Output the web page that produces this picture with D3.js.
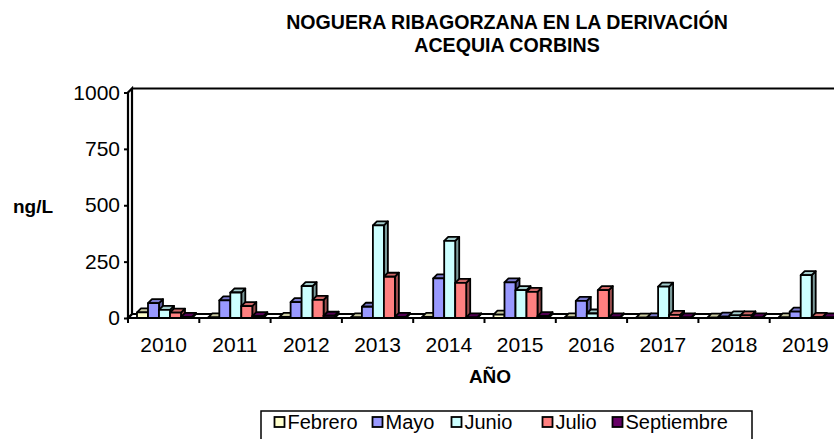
<!DOCTYPE html>
<html><head><meta charset="utf-8">
<script src="https://cdn.jsdelivr.net/npm/d3@7"></script>
<style>
html,body{margin:0;padding:0;background:#fff;}
svg{display:block;font-family:"Liberation Sans",Arial,sans-serif;}
</style></head>
<body>
<svg id="chart" width="834" height="439"></svg>
<script>
const years = ["2010","2011","2012","2013","2014","2015","2016","2017","2018","2019"];
const seriesNames = ["Febrero","Mayo","Junio","Julio","Septiembre"];
const febrero    = [25, 3, 5, 3, 5, 15, 3, 2, 2, 3];
const mayo       = [66, 78, 70, 50, 176, 158, 76, 3, 6, 28];
const junio      = [36, 113, 141, 411, 342, 124, 20, 139, 12, 190];
const julio      = [24, 53, 80, 183, 156, 116, 124, 14, 12, 5];
const septiembre = [5, 8, 10, 5, 3, 8, 3, 3, 3, 3];
const yTicks = [0, 250, 500, 750, 1000];
const colors = ["#FFFFCC","#9999FF","#CCFFFF","#FF8080","#660066"];
const title1 = "NOGUERA RIBAGORZANA EN LA DERIVACIÓN";
const title2 = "ACEQUIA CORBINS";
const yTitle = "ng/L";
const xTitle = "AÑO";

const seriesData = [febrero, mayo, junio, julio, septiembre];

const svg = d3.select("#chart");
svg.append("rect").attr("width",834).attr("height",439).attr("fill","#fff");

const left = 128, catW = 71.3, yBottom = 318, yTop = 92.5;
const dx = 4, dy = 4;
const x0 = d3.scaleBand().domain(years).range([left, left + catW*years.length]).paddingInner(0).paddingOuter(0);
const x1 = d3.scaleBand().domain(seriesNames).range([9, 64]);
const y = d3.scaleLinear().domain([0,1000]).range([yBottom, yTop]);
const right = left + catW*years.length;

// floor
svg.append("polygon")
  .attr("points", [[left,yBottom],[right,yBottom],[right+dx,yBottom-dy],[left+dx,yBottom-dy]].map(p=>p.join(",")).join(" "))
  .attr("fill","#fff").attr("stroke","#000").attr("stroke-width",2.2);
// left wall
svg.append("polygon")
  .attr("points", [[left,yBottom],[left,y(1000)],[left+dx,y(1000)-dy],[left+dx,yBottom-dy]].map(p=>p.join(",")).join(" "))
  .attr("fill","#fff").attr("stroke","#000").attr("stroke-width",2.2);
// back wall top
svg.append("line").attr("x1",left+dx).attr("x2",right+dx).attr("y1",y(1000)-dy).attr("y2",y(1000)-dy)
  .attr("stroke","#000").attr("stroke-width",2);

// y axis
const yAxis = d3.axisLeft(y).tickValues(yTicks).tickSize(4).tickPadding(4).tickFormat(d3.format("d"));
const ya = svg.append("g").attr("transform",`translate(${left},0)`).call(yAxis);
ya.select(".domain").remove();
ya.selectAll(".tick line").attr("stroke","#000").attr("stroke-width",2);
ya.selectAll(".tick text").attr("font-size",21).attr("fill","#000").attr("font-family","Liberation Sans, Arial, sans-serif");

// x ticks at category boundaries
const bounds = years.map(yv => x0(yv)).concat([right]);
svg.append("g").selectAll("line").data(bounds).join("line")
  .attr("x1",d=>d).attr("x2",d=>d).attr("y1",yBottom).attr("y2",yBottom+5)
  .attr("stroke","#000").attr("stroke-width",2);
// x labels
svg.append("g").selectAll("text").data(years).join("text")
  .attr("x", d => x0(d) + x0.bandwidth()/2).attr("y", 351.5)
  .attr("text-anchor","middle").attr("font-size",21).text(d=>d);

// bars
const bars = svg.append("g");
years.forEach((yr, i) => {
  seriesNames.forEach((s, k) => {
    const v = seriesData[k][i];
    const c = d3.color(colors[k]);
    const topC = d3.rgb(c.r*0.8, c.g*0.8, c.b*0.8);
    const sideC = d3.rgb(c.r*0.6, c.g*0.6, c.b*0.6);
    const xl = x0(yr) + x1(s), w = x1.bandwidth(), yt = y(v);
    const g = bars.append("g").attr("stroke","#000").attr("stroke-width",1.8).attr("stroke-linejoin","round");
    g.append("polygon").attr("points",[[xl+w,yBottom],[xl+w,yt],[xl+w+dx,yt-dy],[xl+w+dx,yBottom-dy]].map(p=>p.join(",")).join(" "))
      .attr("fill", sideC.formatHex());
    g.append("polygon").attr("points",[[xl,yt],[xl+w,yt],[xl+w+dx,yt-dy],[xl+dx,yt-dy]].map(p=>p.join(",")).join(" "))
      .attr("fill", topC.formatHex());
    g.append("rect").attr("x",xl).attr("y",yt).attr("width",w).attr("height",Math.max(0,yBottom-yt))
      .attr("fill", colors[k]);
  });
});

// titles
svg.append("text").attr("x",507).attr("y",28.5).attr("text-anchor","middle").attr("font-size",19.6).attr("font-weight","bold").text(title1);
svg.append("text").attr("x",507).attr("y",52).attr("text-anchor","middle").attr("font-size",19.6).attr("font-weight","bold").text(title2);
svg.append("text").attr("x",13).attr("y",213).attr("font-size",19).attr("font-weight","bold").text(yTitle);
svg.append("text").attr("x",490).attr("y",383).attr("text-anchor","middle").attr("font-size",19).attr("font-weight","bold").text(xTitle);

// legend
svg.append("rect").attr("x",261).attr("y",411).attr("width",491).attr("height",40)
  .attr("fill","#fff").attr("stroke","#000").attr("stroke-width",1.5);
const legX = [274.5, 372.5, 451.5, 542.5, 612.5];
const lg = svg.append("g").selectAll("g").data(seriesNames).join("g")
  .attr("transform",(d,i)=>`translate(${legX[i]},417)`);
lg.append("rect").attr("width",10).attr("height",10).attr("fill",(d,i)=>colors[i]).attr("stroke","#000").attr("stroke-width",1.8);
lg.append("text").attr("x",13).attr("y",12).attr("font-size",20).text(d=>d);
</script>
</body></html>
